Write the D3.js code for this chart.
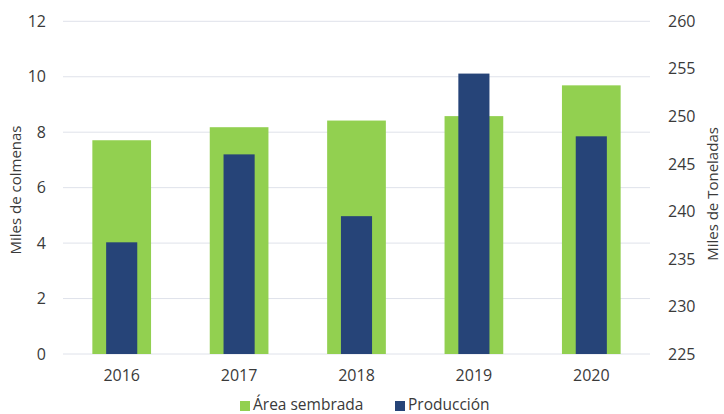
<!DOCTYPE html>
<html><head><meta charset="utf-8">
<script src="https://cdn.jsdelivr.net/npm/d3@7"></script>
<style>
body{margin:0;background:#fff;}
text{font-family:"Open Sans",sans-serif;fill:#3a3a3a;}
</style></head>
<body><svg id="c" width="724" height="414"></svg>
<script>
const years = ["2016","2017","2018","2019","2020"];
const areaSembrada = [7.71, 8.18, 8.42, 8.58, 9.69];
const produccion = [236.75, 246.0, 239.5, 254.5, 247.9];
const leftTicks = [0,2,4,6,8,10,12];
const rightTicks = [225,230,235,240,245,250,255,260];
const seriesNames = ["Área sembrada","Producción"];
const colors = ["#92D050","#264478"];

const svg = d3.select("#c");
const x0 = 63, x1 = 650, yTop = 21.3, yBot = 354;
const x = d3.scaleBand().domain(years).range([x0,x1]);
const yL = d3.scaleLinear().domain([0,12]).range([yBot,yTop]);
const yR = d3.scaleLinear().domain([225,260]).range([yBot,yTop]);

// gridlines
svg.append("g").selectAll("line").data(leftTicks).join("line")
  .attr("x1",x0).attr("x2",x1)
  .attr("y1",d=>yL(d)).attr("y2",d=>yL(d))
  .attr("stroke","#dfe2ea").attr("stroke-width",1);

const bw = x.bandwidth();
const gw = bw*0.5, pw = bw*0.265;
svg.append("g").selectAll("rect").data(years).join("rect")
  .attr("x",d=>x(d)+bw/2-gw/2).attr("width",gw)
  .attr("y",(d,i)=>yL(areaSembrada[i])).attr("height",(d,i)=>yBot-yL(areaSembrada[i]))
  .attr("fill",colors[0]);
svg.append("g").selectAll("rect").data(years).join("rect")
  .attr("x",d=>x(d)+bw/2-pw/2).attr("width",pw)
  .attr("y",(d,i)=>yR(produccion[i])).attr("height",(d,i)=>yBot-yR(produccion[i]))
  .attr("fill",colors[1]);

// axes
const axL = svg.append("g").attr("transform",`translate(${x0},0)`)
  .call(d3.axisLeft(yL).tickValues(leftTicks).tickSize(0).tickPadding(17));
const axR = svg.append("g").attr("transform",`translate(${x1},0)`)
  .call(d3.axisRight(yR).tickValues(rightTicks).tickSize(0).tickPadding(18));
const axB = svg.append("g").attr("transform",`translate(0,${yBot})`)
  .call(d3.axisBottom(x).tickSize(0).tickPadding(16));
[axL,axR,axB].forEach(a=>{a.select(".domain").remove();
  a.selectAll("text").attr("font-family","Open Sans").attr("font-size",16).attr("fill","#3a3a3a");});

svg.append("text").attr("transform","translate(21,190) rotate(-90)")
  .attr("text-anchor","middle").attr("font-size",15).text("Miles de colmenas");
svg.append("text").attr("transform","translate(718,194) rotate(-90)")
  .attr("text-anchor","middle").attr("font-size",15).text("Miles de Toneladas");

// legend
const leg = svg.append("g");
const lx = [240, 395];
seriesNames.forEach((n,i)=>{
  leg.append("rect").attr("x",lx[i]).attr("y",401).attr("width",10).attr("height",10).attr("fill",colors[i]);
  leg.append("text").attr("x",lx[i]+13).attr("y",410).attr("font-size",15.5).text(n);
});
</script></body></html>
